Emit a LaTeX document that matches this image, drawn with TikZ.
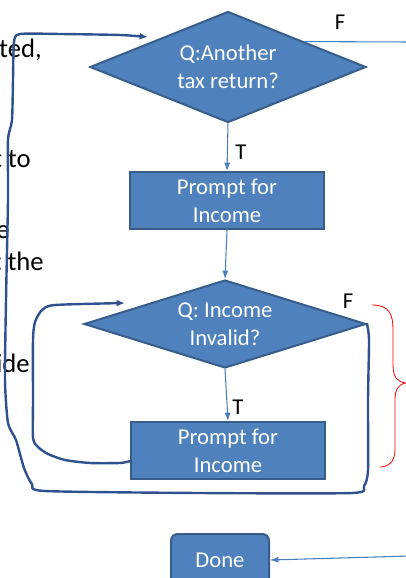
\documentclass[tikz,border=0pt]{standalone}
\usepackage{fontspec}
\setmainfont{Carlito}
\usetikzlibrary{shapes.geometric,arrows.meta,calc}

\definecolor{boxfill}{HTML}{4F81BD}
\definecolor{boxline}{HTML}{385D8A}
\definecolor{flowline}{HTML}{4A7EBB}
\definecolor{penline}{RGB}{47,82,143}

\begin{document}
\begin{tikzpicture}[x=0.75pt,y=-0.75pt,
  decision/.style={diamond, aspect=2.5, draw=boxline, fill=boxfill, line width=1.5pt,
    inner sep=0pt, text=white, align=center, font=\fontsize{17}{21}\selectfont},
  process/.style={rectangle, draw=boxline, fill=boxfill, line width=1.5pt,
    minimum width=145.5pt, minimum height=42.75pt, inner sep=0pt,
    text=white, align=center, font=\fontsize{17}{21}\selectfont},
  flow/.style={draw=flowline, line width=0.8pt, -{Latex[length=2.2mm,width=1.6mm]}},
  scrawl/.style={draw=penline, line width=1.8pt, line cap=round, line join=round,
    -{Latex[length=2.2mm,width=1.8mm]}},
  lbl/.style={font=\fontsize{17}{21}\selectfont},
  bgtext/.style={anchor=base east, inner sep=0pt, font=\fontsize{20}{24}\selectfont}]
  \useasboundingbox (0,0) rectangle (405,578);

  % slide text behind the chart, cut at the left
  \node[bgtext] (w1) at (42,57)  {ted,};
  \node[bgtext] (w2) at (31,167) {t to};
  \node[bgtext] (w3) at (10,238) {e};
  \node[bgtext] (w4) at (44,270) {t the};
  \node[bgtext] (w5) at (30,372) {ide};

  % chart boxes
  \node[decision, minimum width=207pt, minimum height=83.25pt] (ask1) at (228,67)
    {Q:Another\\tax return?};
  \node[process] (get1) at (227,200.5) {Prompt for\\Income};
  \node[decision, minimum width=211.5pt, minimum height=66pt] (ask2) at (225,324)
    {Q: Income\\Invalid?};
  \node[process] (get2) at (228,450.5) {Prompt for\\Income};
  \node[process, rounded corners=5pt, minimum width=73.5pt, minimum height=39pt]
    (done) at (220,560) {Done};

  % labels
  \node[lbl] (f1) at (340,22)  {F};
  \node[lbl] (t1) at (241,152) {T};
  \node[lbl] (f2) at (348,301) {F};
  \node[lbl] (t2) at (238,407) {T};

  % straight connectors
  \coordinate (offtop) at (410,42);
  \coordinate (offbot) at (410,556);
  \draw[flow] (ask1.south) -- (get1.north);
  \draw[flow] (get1.south) -- (ask2.north);
  \draw[flow] (ask2.south) -- (get2.north);
  \draw[flowline, line width=0.8pt] ($(ask1.north)!0.55!(ask1.east)$) -- (offtop);
  \draw[flow] (offbot) -- (done.east);

  % hand drawn loops
  \coordinate (outerend) at (148,37);
  \coordinate (innerend) at (125,303);
  \coordinate (innerstart) at ($(get2.south west)!0.32!(get2.north west)$);
  \draw[scrawl] plot[smooth, tension=0.4] coordinates {
    (ask2.east) (369,340) (368,400) (368,470) (364,486) (352,493) (200,493)
    (45,491) (32,484) (24,468) (16,440) (8,423) (5,380) (6,300) (8,200)
    (8,140) (12,120) (13,80) (14,42) (20,34) (60,34) (120,35) (outerend)};
  \draw[scrawl] plot[smooth, tension=0.4] coordinates {
    (innerstart) (120,463) (90,463) (65,460) (48,454) (38,447) (33,438)
    (33,400) (33,340) (35,322) (42,310) (55,305) (innerend)};

  % red brace
  \draw[red, line width=0.6pt] (372,305) .. controls (390,305) and (393,315) .. (393,330)
    -- (393,365) .. controls (393,378) and (398,382) .. (406,383)
    .. controls (398,384) and (395,390) .. (395,400)
    -- (395,450) .. controls (395,462) and (388,467) .. (380,467);
\end{tikzpicture}
\end{document}
